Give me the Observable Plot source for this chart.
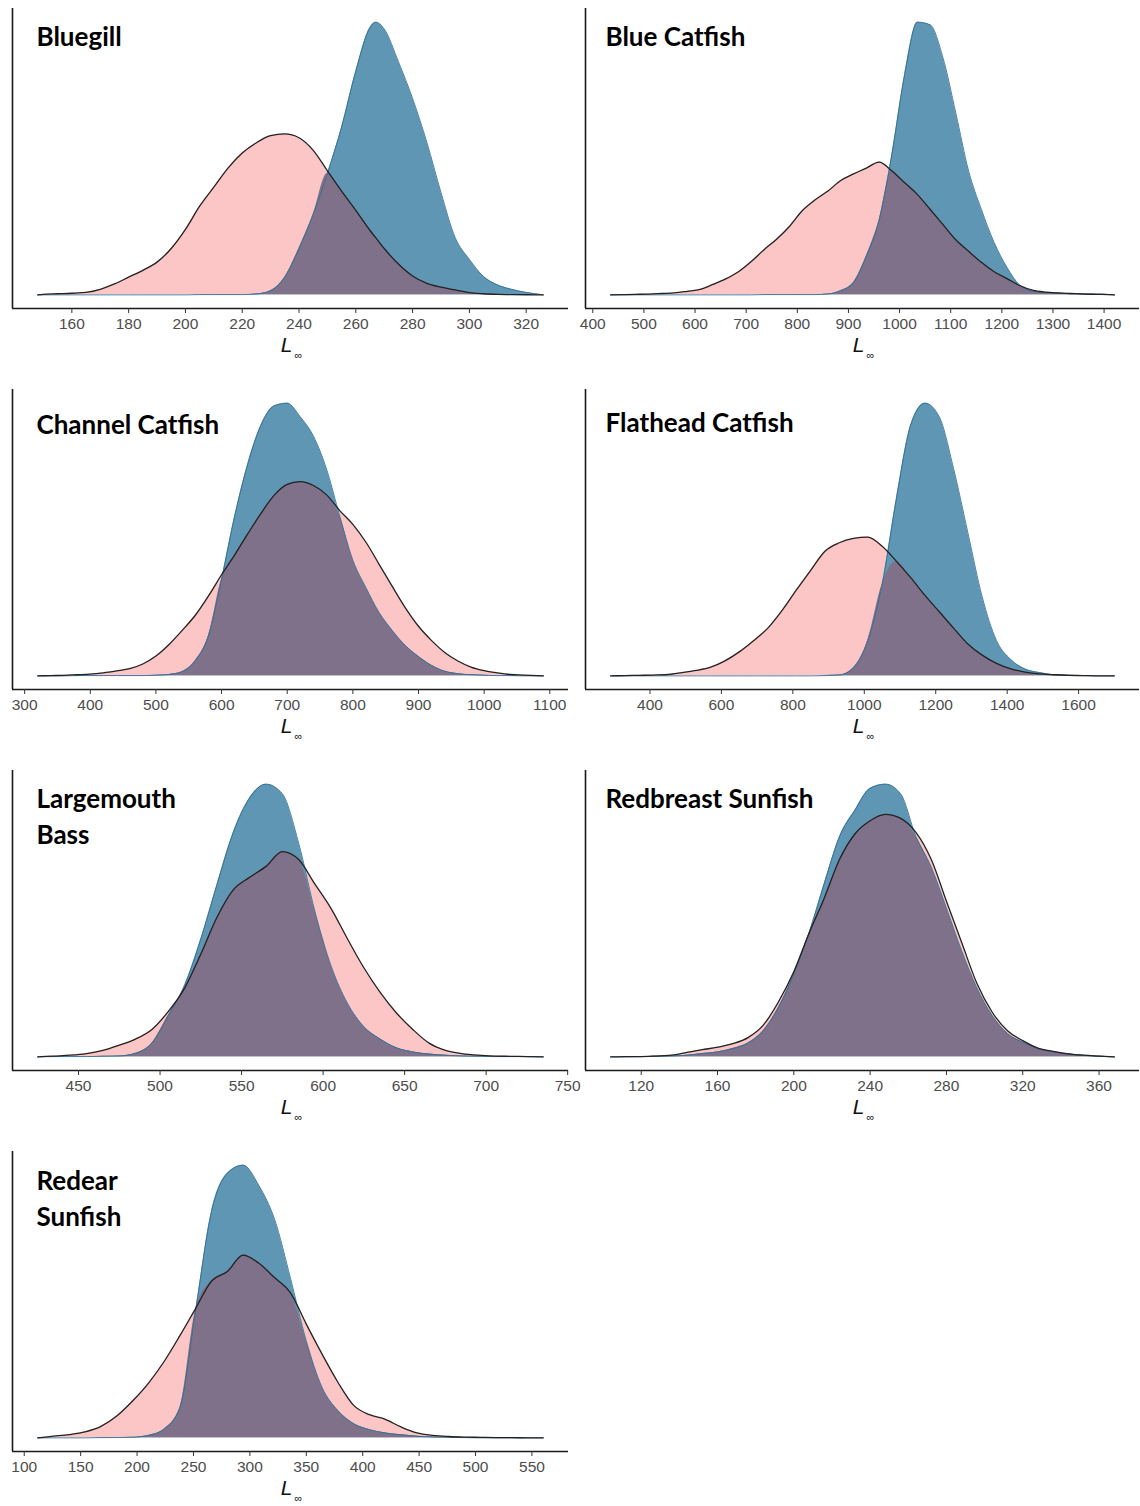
<!DOCTYPE html>
<html>
<head>
<meta charset="utf-8">
<script src="https://cdn.jsdelivr.net/npm/d3@7"></script>
<script src="https://cdn.jsdelivr.net/npm/@observablehq/plot@0.6"></script>
<style>
  html, body { margin: 0; padding: 0; background: #fff; overflow: hidden; }
  #figure { position: relative; width: 1140px; height: 1506px; overflow: hidden; background: #fff; }
  .panel { position: absolute; width: 570px; height: 381px; }
  .panel svg { overflow: visible; }
</style>
</head>
<body>
<div id="figure"></div>
<script>
// Posterior (blue) vs prior (pink) densities of L-infinity, one panel per species.
// Density heights are relative (tallest curve of each panel ~ 100).

// Bluegill
const bluegillL = [148,150,155,160,165,170,175,180,185,190,195,200,205,210,215,220,225,230,235,240,245,250,255,260,265,267,270,275,280,285,290,295,300,305,310,315,320,326];
const bluegillPrior = [0,0.2,0.4,0.6,0.9,2,4,6.5,9,12,17,24,32.5,39.5,46.5,52,55.8,58.4,59,57.6,53,45.5,38,31,23.6,21,17,11.3,6.9,4.2,2.8,1.8,0.8,0.4,0.2,0.1,0.05,0];
const bluegillPost = [0,0,0,0,0,0,0,0,0,0,0,0,0.1,0.1,0.1,0.1,0.3,1.5,6.5,17,29.5,44.5,61.5,82,98,100,97.5,85.5,72,56,37.5,21,13,6.7,3.6,2,0.9,0];
const bluegillTicks = [160,180,200,220,240,260,280,300,320];

// Blue Catfish
const blueCatL = [435,460,485,510,535,560,585,610,635,660,685,710,735,760,785,810,835,860,885,910,935,960,985,1010,1035,1060,1085,1110,1135,1160,1185,1210,1235,1260,1285,1310,1335,1360,1385,1410,1420];
const blueCatPrior = [0,0.1,0.2,0.3,0.5,0.7,1.3,2.0,3.8,5.8,8.4,12.1,16.4,20.3,24.9,30.6,34.5,37.7,41.5,43.9,46,48.2,45,40.7,36.4,31,25.5,20,15.8,11.8,8.4,5.9,3.4,1.7,1.0,0.7,0.5,0.3,0.2,0.1,0];
const blueCatPost = [0,0,0,0,0,0,0,0,0,0,0,0,0.1,0.1,0.1,0.1,0.1,0.3,1.5,4.5,14,27,51,80,99,98,86,66,45,31,19,10,3.5,1.3,0.8,0.6,0.4,0.3,0.2,0.1,0];
const blueCatTicks = [400,500,600,700,800,900,1000,1100,1200,1300,1400];

// Channel Catfish
const channelL = [320,340,360,380,400,420,440,460,480,500,520,540,560,580,600,620,640,660,680,700,720,740,760,780,800,820,840,860,880,900,920,940,960,980,1000,1020,1040,1060,1080,1090];
const channelPrior = [0,0.1,0.2,0.4,0.6,1.1,1.8,2.6,4.3,7.2,11.4,16.5,22,29,36.7,43.9,51.6,59,65.5,69.5,70.5,69.1,65.7,60,55,48.5,40.5,32.5,24.7,18,12.8,8.5,5.4,3.2,1.9,1.1,0.5,0.3,0.1,0];
const channelPost = [0,0,0,0.1,0.1,0.1,0.1,0.1,0.1,0.2,0.5,1.5,5.5,14.5,35,58,77,91,98,99,94,87,75,58,42,32,23,16.5,11,7,3.8,1.7,0.8,0.4,0.2,0.1,0.1,0,0,0];
const channelTicks = [300,400,500,600,700,800,900,1000,1100];

// Flathead Catfish
const flatheadL = [290,330,370,410,450,490,530,570,610,650,690,730,770,810,850,890,930,970,1010,1050,1090,1130,1170,1210,1250,1290,1330,1370,1410,1450,1490,1530,1570,1610,1650,1690,1700];
const flatheadPrior = [0,0.1,0.2,0.3,0.5,1.2,2,3.2,5.5,8.8,12.9,17.5,24,31.5,38.7,45.7,48.8,50.4,50.9,47.5,42,36,29.5,23.5,17.5,11.7,7.6,4.6,2.6,1.4,0.7,0.4,0.2,0.1,0,0,0];
const flatheadPost = [0,0,0,0,0,0,0,0,0,0,0,0,0,0,0,0.1,0.3,3,13,33.5,65,92,100,95,76,52.5,29,13,6,2.5,1.2,0.4,0.2,0.1,0,0,0];
const flatheadTicks = [400,600,800,1000,1200,1400,1600];

// Largemouth Bass
const largemouthL = [425,435,445,455,465,475,485,495,505,515,525,535,545,555,565,575,585,595,605,615,625,635,645,655,665,675,685,695,705,715,725,735];
const largemouthPrior = [0,0.3,0.6,1.2,2.4,4.3,6.5,10,16.5,25,37.5,51,61,65.5,69.5,74.9,72,63,54,43,32.5,23.5,16,10,5,2.4,1.2,0.6,0.3,0.2,0.1,0];
const largemouthPost = [0,0.1,0.1,0.1,0.2,0.3,1.3,5,15,26,43,63,82,94.5,99.5,96,78,53,33,19.5,11,6.5,3.3,1.8,1,0.6,0.3,0.2,0.1,0.1,0.1,0];
const largemouthTicks = [450,500,550,600,650,700,750];

// Redbreast Sunfish
const redbreastL = [104,112,120,128,136,144,152,160,168,176,184,192,200,208,216,224,232,240,248,256,264,272,280,288,296,304,312,320,328,336,344,352,360,368];
const redbreastPrior = [0,0.1,0.1,0.3,0.6,1.6,2.6,3.5,4.8,7,11.5,20,30.9,44.9,57.7,71.7,80.9,85.7,88,86.6,81.5,71.7,56.5,41.5,26.6,16.2,9.5,5.9,3.2,2,1.1,0.6,0.3,0];
const redbreastPost = [0,0,0.1,0.2,0.3,0.6,1.2,1.8,3,5,9.5,18,30,45,63,80,89.5,97.5,99,95.5,80,69,54,38.5,25,15,8.5,5.3,3,1.8,1,0.5,0.2,0];
const redbreastTicks = [120,160,200,240,280,320,360];

// Redear Sunfish
const redearL = [112,126,140,154,168,182,196,210,224,238,252,266,280,294,308,322,336,350,364,378,392,406,420,434,448,462,476,490,504,518,532,546,560];
const redearPrior = [0,0.6,1.2,2.2,4.2,8,13.5,20,28,37.5,47.5,57.5,61,67,64,58.7,53.2,41.7,30.7,20.4,11.9,8.5,6.8,4,1.8,0.9,0.5,0.3,0.2,0.1,0.1,0,0];
const redearPost = [0,0,0,0,0.1,0.1,0.2,0.9,3.2,11,47,83,97,100,92.5,80,58.5,35.5,18.5,10,5.2,3,1.8,1.1,0.6,0.3,0.2,0.1,0,0,0,0,0];
const redearTicks = [100,150,200,250,300,350,400,450,500,550];

const species = [
  {name: "Bluegill", L: bluegillL, prior: bluegillPrior, post: bluegillPost, ticks: bluegillTicks},
  {name: "Blue Catfish", L: blueCatL, prior: blueCatPrior, post: blueCatPost, ticks: blueCatTicks},
  {name: "Channel Catfish", L: channelL, prior: channelPrior, post: channelPost, ticks: channelTicks},
  {name: "Flathead Catfish", L: flatheadL, prior: flatheadPrior, post: flatheadPost, ticks: flatheadTicks},
  {name: "Largemouth\nBass", L: largemouthL, prior: largemouthPrior, post: largemouthPost, ticks: largemouthTicks},
  {name: "Redbreast Sunfish", L: redbreastL, prior: redbreastPrior, post: redbreastPost, ticks: redbreastTicks},
  {name: "Redear\nSunfish", L: redearL, prior: redearPrior, post: redearPost, ticks: redearTicks}
];

// Vertical offset of each panel's title inside its frame (px from the frame top)
const titleTop = [13, 13, 20, 18, 13, 13, 14];

const PINK = "#fbc6c5";
const BLUE = "#5f96b3";
const OVERLAP = "#7f7189";
const BLUE_EDGE = "#2f6d93";
const PINK_EDGE = "#222222";
const curve = "monotone-x";

function densityPanel(sp, col, titleDy) {
  const rows = sp.L.map((v, i) => ({
    L: v,
    prior: sp.prior[i],
    post: sp.post[i],
    both: Math.min(sp.prior[i], sp.post[i])
  }));
  const [lo, hi] = d3.extent(sp.L);
  const padX = (hi - lo) * 0.05;
  const top = d3.max(rows, d => Math.max(d.prior, d.post));
  const yLo = -0.05 * top, yHi = 1.05 * top;
  const xLo = lo - padX, xHi = hi + padX;

  return Plot.plot({
    width: 570,
    height: 381,
    marginLeft: col ? 15 : 12,
    marginRight: col ? 1 : 2,
    marginTop: 8,
    marginBottom: 73,
    style: {background: "transparent", overflow: "visible", fontFamily: "'Liberation Sans', Arial, sans-serif"},
    x: {domain: [xLo, xHi], label: null},
    y: {domain: [yLo, yHi], axis: null},
    marks: [
      Plot.areaY(rows, {x: "L", y: "prior", fill: PINK, curve}),
      Plot.areaY(rows, {x: "L", y: "post", fill: BLUE, curve}),
      Plot.areaY(rows, {x: "L", y: "both", fill: OVERLAP, curve}),
      Plot.lineY(rows, {x: "L", y: "post", stroke: BLUE_EDGE, strokeWidth: 1, strokeOpacity: 0.85, curve}),
      Plot.lineY(rows, {x: "L", y: "prior", stroke: PINK_EDGE, strokeWidth: 1.3, curve}),
      Plot.ruleY([yLo], {stroke: "#1a1a1a", strokeWidth: 1.6}),
      Plot.ruleX([xLo], {stroke: "#1a1a1a", strokeWidth: 1.6}),
      Plot.axisX({ticks: sp.ticks, tickFormat: "d", tickSize: 5, tickPadding: 4, fontSize: 15.5, fill: "#4d4d4d", stroke: "#333", label: null}),
      Plot.text([sp.name], {
        text: d => d, frameAnchor: "top-left", textAnchor: "start", lineAnchor: "top",
        dx: col ? 20 : 24, dy: titleDy, fontSize: 26, fontWeight: "bold", lineHeight: 1.35,
        fontFamily: "Lato, 'Open Sans', sans-serif", fill: "#000"
      }),
      Plot.text(["L"], {text: d => d, frameAnchor: "bottom", dx: -4, dy: 43, fontSize: 21, fontStyle: "italic", fill: "#111"}),
      Plot.text(["\u221e"], {text: d => d, frameAnchor: "bottom", dx: 8, dy: 50, fontSize: 11, fill: "#111"})
    ]
  });
}

const figure = document.getElementById("figure");
species.forEach((sp, i) => {
  const col = i % 2, row = Math.floor(i / 2);
  const div = document.createElement("div");
  div.className = "panel";
  div.style.left = (col * 570) + "px";
  div.style.top = (row * 381) + "px";
  div.appendChild(densityPanel(sp, col, titleTop[i]));
  figure.appendChild(div);
});
</script>
</body>
</html>
